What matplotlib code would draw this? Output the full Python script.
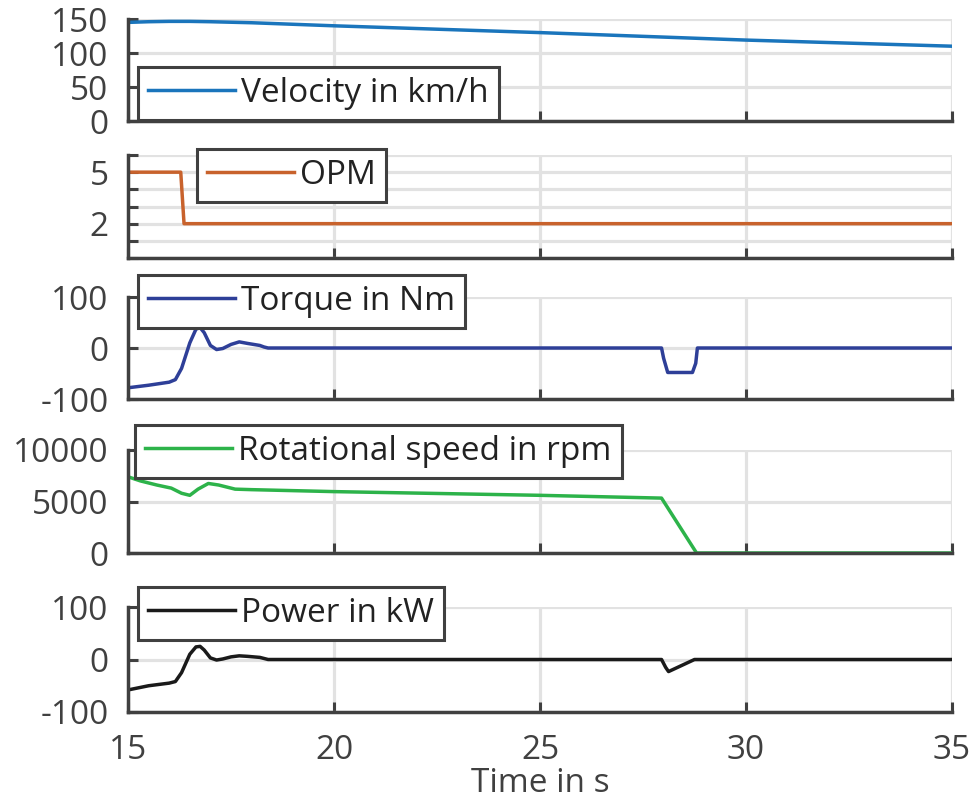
import matplotlib
matplotlib.use("Agg")
import matplotlib.pyplot as plt

plt.rcParams['font.family'] = ['Open Sans', 'DejaVu Sans']
plt.rcParams['axes.unicode_minus'] = False

# data
vel_t = [15, 15.5, 16, 16.5, 17, 18, 20, 22.5, 25, 27.5, 30, 32.5, 35]
vel_v = [145, 146, 146.5, 146.5, 146, 144.5, 140, 135, 130, 124.5, 119, 114.5, 110]

opm_t = [15, 16.28, 16.36, 35]
opm_v = [5, 5, 2, 2]

trq_t = [15, 15.5, 16.0, 16.15, 16.3, 16.5, 16.65, 16.75, 16.85, 17.0, 17.15, 17.3,
         17.5, 17.7, 17.9, 18.2, 18.3, 18.4, 27.95, 28.0, 28.1, 28.7, 28.78, 28.82, 35]
trq_v = [-78, -73, -67, -62, -40, 10, 37, 40, 30, 5, -3, -1,
         7, 12, 9, 5, 2, 0, 0, -20, -48, -48, -30, 0, 0]

spd_t = [15, 15.3, 15.7, 16.05, 16.3, 16.5, 16.7, 16.95, 17.2, 17.6, 18, 20, 25, 27.95, 28.8, 35]
spd_v = [7400, 7000, 6600, 6300, 5800, 5600, 6200, 6750, 6600, 6200, 6150, 5960, 5600, 5330, 0, 0]

pwr_t = [15, 15.5, 16.0, 16.15, 16.3, 16.5, 16.65, 16.75, 16.85, 17.0, 17.15, 17.3,
         17.5, 17.7, 17.9, 18.2, 18.3, 18.4, 27.95, 28.05, 28.12, 28.75, 35]
pwr_v = [-58, -50, -45, -42, -25, 10, 24, 25, 18, 3, -1, 1,
         5, 7, 6, 4, 2, 0, 0, -15, -23, 0, 0]

W, H = 972, 802
fig = plt.figure(figsize=(W / 100, H / 100), dpi=100)

dark = '#404040'
gridc = '#e2e2e2'
fs = 24

# (top px, bottom px) of each axes
rows = [(19, 121), (155, 258), (297, 399), (450, 553), (607, 712)]
left, right = 128, 952

# legend boxes: left px, top px
leg_pos = [(138, 67), (197, 149), (138, 275), (135, 425), (138, 587)]

series = [
    (vel_t, vel_v, '#1a75bc', 'Velocity in km/h', (0, 150), [0, 50, 100, 150]),
    (opm_t, opm_v, '#c8622c', 'OPM', (0, 6), [0, 1, 2, 3, 4, 5, 6]),
    (trq_t, trq_v, '#2e3f98', 'Torque in Nm', (-100, 100), [-100, 0, 100]),
    (spd_t, spd_v, '#2db34a', 'Rotational speed in rpm', (0, 10000), [0, 5000, 10000]),
    (pwr_t, pwr_v, '#1a1a1a', 'Power in kW', (-100, 100), [-100, 0, 100]),
]

axes = []
for i, (t, v, c, lab, ylim, yt) in enumerate(series):
    top, bot = rows[i]
    ax = fig.add_axes([left / W, 1 - bot / H, (right - left) / W, (bot - top) / H])
    axes.append(ax)
    ax.plot(t, v, color=c, lw=2.5, label=lab, solid_joinstyle='round')
    ax.set_xlim(15, 35)
    ax.set_ylim(*ylim)
    ax.set_yticks(yt)
    if i == 1:
        ax.set_yticklabels(['', '', '2', '', '', '5', ''])
    ax.set_xticks([15, 20, 25, 30, 35])
    ax.grid(True, color=gridc, lw=2.3)
    ax.set_axisbelow(True)
    for s in ['top', 'right']:
        ax.spines[s].set_visible(False)
    for s in ['left', 'bottom']:
        ax.spines[s].set_color(dark)
        ax.spines[s].set_linewidth(2.5)
    ax.tick_params(direction='in', length=7, width=2.2, color=dark,
                   labelsize=fs, labelcolor=dark, pad=14)
    ax.tick_params(axis='x', pad=16)
    if i < 4:
        ax.tick_params(axis='x', labelbottom=False)
    lx, ly = leg_pos[i]
    leg = ax.legend(loc='upper left', bbox_to_anchor=(lx / W, 1 - ly / H),
                    bbox_transform=fig.transFigure, fontsize=fs, frameon=True,
                    fancybox=False, framealpha=1, edgecolor=dark,
                    handlelength=2.6, handletextpad=0.2, borderpad=0.3,
                    borderaxespad=0)
    leg.get_frame().set_linewidth(2.2)
    for txt in leg.get_texts():
        txt.set_color('#222222')

axes[-1].set_xlabel('Time in s', fontsize=fs, color=dark, labelpad=0)

fig.savefig('out.png', dpi=100)
